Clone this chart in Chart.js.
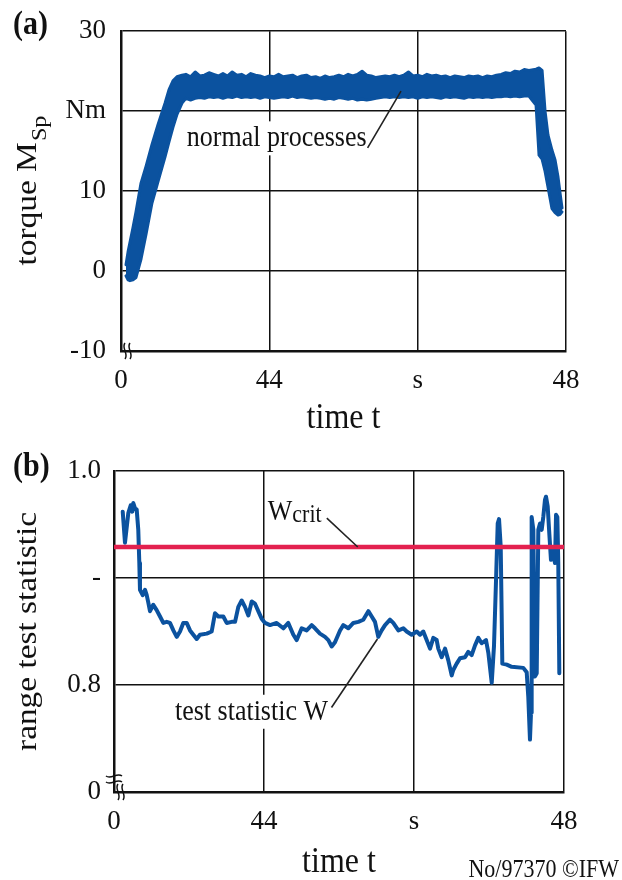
<!DOCTYPE html>
<html>
<head>
<meta charset="utf-8">
<script src="https://cdn.jsdelivr.net/npm/chart.js@4.4.1/dist/chart.umd.min.js"></script>
<style>
  body { margin: 0; background: #fff; }
  #wrap { position: relative; width: 622px; height: 880px; }
  canvas { position: absolute; left: 0; }
</style>
</head>
<body>
<div id="wrap">
  <canvas id="torque" width="622" height="440" style="top:0"></canvas>
  <canvas id="wstat" width="622" height="440" style="top:440px"></canvas>
</div>
<script>
// tick labels as printed on the figure
const xTickLabels = ['0', '44', 's', '48'];
const yTickLabelsA = ['-10', '0', '10', 'Nm', '30'];
const yTickLabelsB = ['0', '0.8', '-', '1.0'];

// (a) torque band: upper and lower edge of the noisy signal
const tA = [0.54, 0.76, 0.97, 1.29, 1.62, 2.16, 2.70, 3.34, 3.99, 4.75, 5.18, 5.61, 6.04, 6.58,
  7, 7.5, 8, 8.5, 9, 9.5, 10, 10.5, 11, 11.5, 12, 12.5, 13, 13.5, 14, 14.5, 15, 15.5, 16, 16.5,
  17, 17.5, 18, 18.5, 19, 19.5, 20, 20.5, 21, 21.5, 22, 22.5, 23, 23.5, 24, 24.5, 25, 25.5, 26, 26.5,
  27, 27.5, 28, 28.5, 29, 29.5, 30, 30.5, 31, 31.5, 32, 32.5, 33, 33.5, 34, 34.5, 35, 35.5, 36, 36.5,
  37, 37.5, 38, 38.5, 39, 39.5, 40, 40.5, 41, 41.5, 42, 42.5, 43, 43.5, 44,
  44.77, 45.09, 45.42, 45.74, 46.06, 46.49, 46.82, 47.14, 47.36, 47.57];
const torqueUpper = [0.8, 2.4, 3.6, 5.4, 7.4, 11, 13.1, 15.8, 18.3, 21, 22.7, 23.8, 24.3, 24.5,
  24.6, 24.3, 24.9, 24.4, 24.5, 24.8, 24.6, 24.4, 24.7, 24.4, 24.9, 24.5, 24.6, 24.3, 24.7, 24.5, 24.4, 24.2, 24.4, 24.3,
  24.6, 24.3, 24.4, 24.5, 24.2, 24.4, 24.5, 24.2, 24.3, 24.1, 24.4, 24.2, 24.3, 24.5, 24.3, 24.6, 24.4, 24.6, 25.0, 24.5,
  24.4, 24.2, 24.3, 24.4, 24.3, 24.5, 24.3, 24.5, 24.9, 24.4, 24.5, 24.3, 24.6, 24.4, 24.5, 24.3, 24.4, 24.2, 24.4, 24.3,
  24.2, 24.4, 24.3, 24.4, 24.2, 24.4, 24.3, 24.5, 24.6, 24.8, 24.7, 25.0, 24.9, 25.2, 25.1,
  25.25, 25.4, 25.1, 20.0, 17.0, 15.1, 13.9, 11.75, 9.75, 7.9];
const torqueLower = [-0.6, -1.1, -1.2, -1.1, -0.8, 1.5, 4.6, 8.5, 11.2, 14.3, 16.2, 18.0, 19.6, 21.0,
  21.6, 21.4, 21.6, 21.7, 21.6, 21.8, 21.7, 21.8, 21.6, 21.8, 21.7, 21.9, 21.7, 21.8, 21.7, 21.8, 21.6, 21.8, 21.7, 21.6,
  21.7, 21.8, 21.7, 21.9, 21.7, 21.8, 21.7, 21.6, 21.7, 21.6, 21.5, 21.6, 21.5, 21.7, 21.6, 21.5, 21.6, 21.4, 21.5, 21.4,
  21.5, 21.6, 21.7, 21.8, 21.7, 21.8, 21.7, 21.8, 21.7, 21.8, 21.6, 21.8, 21.7, 21.8, 21.7, 21.6, 21.8, 21.7, 21.8, 21.7,
  21.6, 21.8, 21.7, 21.8, 21.7, 21.8, 21.7, 21.8, 21.8, 21.9, 21.8, 21.9, 21.8, 21.9, 21.9,
  20.75, 14.5, 14.0, 12.5, 10.5, 7.8, 7.3, 7.0, 7.1, 7.4];

// (b) range test statistic W
const tB = [0.93, 1.17, 1.53, 1.78, 1.95, 2.06, 2.24, 2.42, 2.59, 2.70, 2.77, 3.06, 3.31, 3.49, 3.66, 3.84,
  4.19, 4.55, 4.91, 5.26, 5.62, 5.97, 6.33, 6.69, 7.04, 7.39, 7.75, 8.11, 8.46, 8.82, 9.17, 9.89,
  10.42, 10.77, 11.13, 11.66, 12.02, 12.55, 12.91, 13.26, 13.62, 13.97, 14.33, 14.69, 15.04, 15.39, 15.75, 16.11,
  16.64, 17.35, 18.06, 18.59, 19.13, 19.49, 20.02, 20.55, 21.09, 21.44, 21.97, 22.51, 22.86, 23.22, 23.57, 24.11,
  24.46, 24.99, 25.53, 26.06, 26.59, 27.13, 27.49, 27.84, 28.19, 28.55, 28.91, 29.44, 29.79, 30.33, 30.86, 31.22,
  31.75, 32.29, 32.64, 32.99, 33.35, 33.71, 34.06, 34.42, 34.59, 34.95, 35.31, 35.66, 36.02, 36.19, 36.55, 36.91,
  37.44, 37.79, 38.15, 38.51, 38.86, 39.22, 39.68, 39.93, 40.29, 40.53, 40.75, 40.93, 41.07, 41.25, 41.35, 41.42,
  41.89, 42.42, 43.66, 44.02, 44.19, 44.37, 44.48, 44.55, 44.73, 44.91, 45.09, 45.26, 45.44, 45.62, 45.79, 45.97,
  46.08, 46.26, 46.43, 46.61, 46.79, 47.04, 47.15, 47.29, 47.39, 47.50];
const wValues = [0.962, 0.933, 0.961, 0.968, 0.962, 0.970, 0.965, 0.964, 0.945, 0.914, 0.889, 0.884, 0.889, 0.884, 0.877, 0.869,
  0.875, 0.870, 0.864, 0.858, 0.859, 0.858, 0.851, 0.845, 0.850, 0.858, 0.858, 0.851, 0.847, 0.843, 0.847, 0.848,
  0.850, 0.867, 0.864, 0.864, 0.858, 0.859, 0.859, 0.873, 0.879, 0.873, 0.865, 0.878, 0.876, 0.869, 0.862, 0.858,
  0.856, 0.858, 0.853, 0.858, 0.847, 0.842, 0.853, 0.851, 0.856, 0.853, 0.848, 0.845, 0.842, 0.836, 0.840, 0.851,
  0.856, 0.853, 0.858, 0.859, 0.861, 0.869, 0.864, 0.859, 0.845, 0.851, 0.856, 0.861, 0.858, 0.851, 0.853, 0.850,
  0.847, 0.850, 0.847, 0.850, 0.842, 0.834, 0.844, 0.842, 0.834, 0.826, 0.834, 0.823, 0.809, 0.814, 0.820, 0.825,
  0.826, 0.831, 0.828, 0.837, 0.844, 0.839, 0.842, 0.830, 0.802, 0.836, 0.898, 0.951, 0.955, 0.929, 0.867, 0.820,
  0.819, 0.817, 0.816, 0.812, 0.789, 0.749, 0.774, 0.957, 0.945, 0.808, 0.811, 0.945, 0.951, 0.945, 0.957, 0.973,
  0.976, 0.967, 0.942, 0.917, 0.926, 0.914, 0.959, 0.957, 0.914, 0.811];
const wCrit = 0.929;

const BLUE = '#0b529f';
const RED = '#e3214f';
const SERIF = '"Liberation Serif", "DejaVu Serif", serif';
Chart.defaults.font.family = SERIF;
Chart.defaults.color = '#111';

function pts(xs, ys) { return xs.map((x, i) => ({ x: x, y: ys[i] })); }

function txt(ctx, s, x, y, size, opts) {
  opts = opts || {};
  ctx.save();
  ctx.translate(x, y);
  ctx.scale(1, opts.sy || 1.15);
  ctx.font = (opts.bold ? 'bold ' : '') + size + 'px ' + SERIF;
  ctx.fillStyle = '#111';
  ctx.textAlign = opts.align || 'left';
  ctx.textBaseline = 'middle';
  ctx.fillText(s, 0, 0);
  ctx.restore();
}

function boxedText(ctx, s, x, y, size) {
  ctx.save();
  ctx.font = size + 'px ' + SERIF;
  const w = ctx.measureText(s).width;
  ctx.fillStyle = '#fff';
  ctx.fillRect(x - 4, y - 17, w + 8, 34);
  ctx.restore();
  txt(ctx, s, x, y, size);
}

function yTitle(ctx, main, sub, bx, cy) {
  ctx.save();
  ctx.translate(bx, cy);
  ctx.rotate(-Math.PI / 2);
  ctx.scale(1.15, 1);
  ctx.fillStyle = '#111';
  ctx.textBaseline = 'alphabetic';
  ctx.font = '29px ' + SERIF;
  const w1 = ctx.measureText(main).width;
  ctx.font = '21px ' + SERIF;
  const w2 = sub ? ctx.measureText(sub).width : 0;
  const x0 = -(w1 + w2) / 2;
  ctx.font = '29px ' + SERIF;
  ctx.fillText(main, x0, 0);
  if (sub) {
    ctx.font = '21px ' + SERIF;
    ctx.fillText(sub, x0 + w1 + 1, 10);
  }
  ctx.restore();
}

function leader(chart, t1, v1, t2, v2) {
  const { ctx, scales: { x, y } } = chart;
  ctx.save();
  ctx.strokeStyle = '#222';
  ctx.lineWidth = 1.6;
  ctx.beginPath();
  ctx.moveTo(x.getPixelForValue(t1), y.getPixelForValue(v1));
  ctx.lineTo(x.getPixelForValue(t2), y.getPixelForValue(v2));
  ctx.stroke();
  ctx.restore();
}

function squiggle(ctx, x, y, dx, dy) {
  // small wavy break mark centred at x,y along direction (dx,dy)
  const nx = -dy, ny = dx;
  ctx.beginPath();
  ctx.moveTo(x - dx * 8, y - dy * 8);
  ctx.bezierCurveTo(x - dx * 3 + nx * 4, y - dy * 3 + ny * 4, x + dx * 3 - nx * 4, y + dy * 3 - ny * 4, x + dx * 8, y + dy * 8);
  ctx.stroke();
}

function baseScales(yMin, yMax, yLabels, yWidth, xHeight, yPad) {
  return {
    x: {
      type: 'linear', min: 0, max: 48,
      ticks: { stepSize: 16, autoSkip: false, maxRotation: 0, padding: 14,
        font: { size: 27 }, color: '#111',
        callback: (v, i) => xTickLabels[i] },
      grid: { color: '#111', lineWidth: 1.5, drawTicks: false },
      border: { color: '#111', width: 2.5 },
      afterFit: s => { s.height = xHeight; }
    },
    y: {
      min: yMin, max: yMax,
      ticks: { stepSize: (yMax - yMin) / (yLabels.length - 1), autoSkip: false, padding: yPad,
        font: { size: 27 }, color: '#111',
        callback: (v, i) => yLabels[i] },
      grid: { color: '#111', lineWidth: 1.5, drawTicks: false },
      border: { color: '#111', width: 2.5 },
      afterFit: s => { s.width = yWidth; }
    }
  };
}

const common = {
  responsive: false,
  animation: false,
  devicePixelRatio: 1,
  plugins: { legend: { display: false }, tooltip: { enabled: false } },
  elements: { point: { radius: 0 }, line: { tension: 0, borderJoinStyle: 'round', borderCapStyle: 'round' } }
};

const decorA = {
  id: 'decorA',
  afterDraw(chart) {
    const { ctx, chartArea: ca, scales: { x, y } } = chart;
    txt(ctx, '(a)', 13, 25, 30, { bold: true });
    yTitle(ctx, 'torque M', 'Sp', 36, (ca.top + ca.bottom) / 2);
    txt(ctx, 'time t', (ca.left + ca.right) / 2, ca.bottom + 67, 32, { align: 'center' });
    boxedText(ctx, 'normal processes', x.getPixelForValue(7.1), y.getPixelForValue(16.6), 26);
    leader(chart, 26.6, 15.4, 30.2, 22.5);
    ctx.save();
    ctx.strokeStyle = '#111';
    ctx.lineWidth = 1.5;
    squiggle(ctx, ca.left + 4, ca.bottom, 0, 1);
    squiggle(ctx, ca.left + 9, ca.bottom, 0, 1);
    ctx.restore();
  }
};

const decorB = {
  id: 'decorB',
  afterDraw(chart) {
    const { ctx, chartArea: ca, scales: { x, y } } = chart;
    txt(ctx, '(b)', 13, 27, 30, { bold: true });
    yTitle(ctx, 'range test statistic', '', 36, (ca.top + ca.bottom) / 2);
    txt(ctx, 'time t', (ca.left + ca.right) / 2, ca.bottom + 70, 32, { align: 'center' });
    boxedText(ctx, 'test statistic W', x.getPixelForValue(6.5), y.getPixelForValue(0.775), 26);
    leader(chart, 23.2, 0.779, 28.1, 0.843);
    const wx = x.getPixelForValue(16.4), wy = y.getPixelForValue(0.962);
    txt(ctx, 'W', wx, wy, 26);
    ctx.save();
    ctx.font = '26px ' + SERIF;
    const ww = ctx.measureText('W').width;
    ctx.restore();
    txt(ctx, 'crit', wx + ww, wy + 4, 22);
    leader(chart, 22.7, 0.956, 26.0, 0.929);
    txt(ctx, 'No/97370 \u00A9IFW', 619, 430, 22, { align: 'right' });
    ctx.save();
    ctx.strokeStyle = '#111';
    ctx.lineWidth = 1.5;
    squiggle(ctx, ca.left, ca.bottom - 16, 1, 0);
    squiggle(ctx, ca.left, ca.bottom - 10, 1, 0);
    squiggle(ctx, ca.left + 4, ca.bottom, 0, 1);
    squiggle(ctx, ca.left + 9, ca.bottom, 0, 1);
    ctx.restore();
  }
};

new Chart(document.getElementById('torque').getContext('2d'), {
  type: 'line',
  data: {
    datasets: [
      { data: pts(tA, torqueUpper), borderColor: BLUE, borderWidth: 3, fill: false },
      { data: pts(tA, torqueLower), borderColor: BLUE, borderWidth: 3, fill: '-1', backgroundColor: BLUE }
    ]
  },
  options: Object.assign({}, common, {
    layout: { padding: { left: 0, right: 56, top: 31, bottom: 0 } },
    scales: baseScales(-10, 30, yTickLabelsA, 121, 89, 15)
  }),
  plugins: [decorA]
});

new Chart(document.getElementById('wstat').getContext('2d'), {
  type: 'line',
  data: {
    datasets: [
      { data: [{ x: 0, y: wCrit }, { x: 48, y: wCrit }], borderColor: RED, borderWidth: 4.5, fill: false },
      { data: pts(tB, wValues), borderColor: BLUE, borderWidth: 4, fill: false }
    ]
  },
  options: Object.assign({}, common, {
    layout: { padding: { left: 0, right: 58, top: 31, bottom: 0 } },
    scales: baseScales(0.7, 1.0, yTickLabelsB, 114, 88, 13)
  }),
  plugins: [decorB]
});
</script>
</body>
</html>
